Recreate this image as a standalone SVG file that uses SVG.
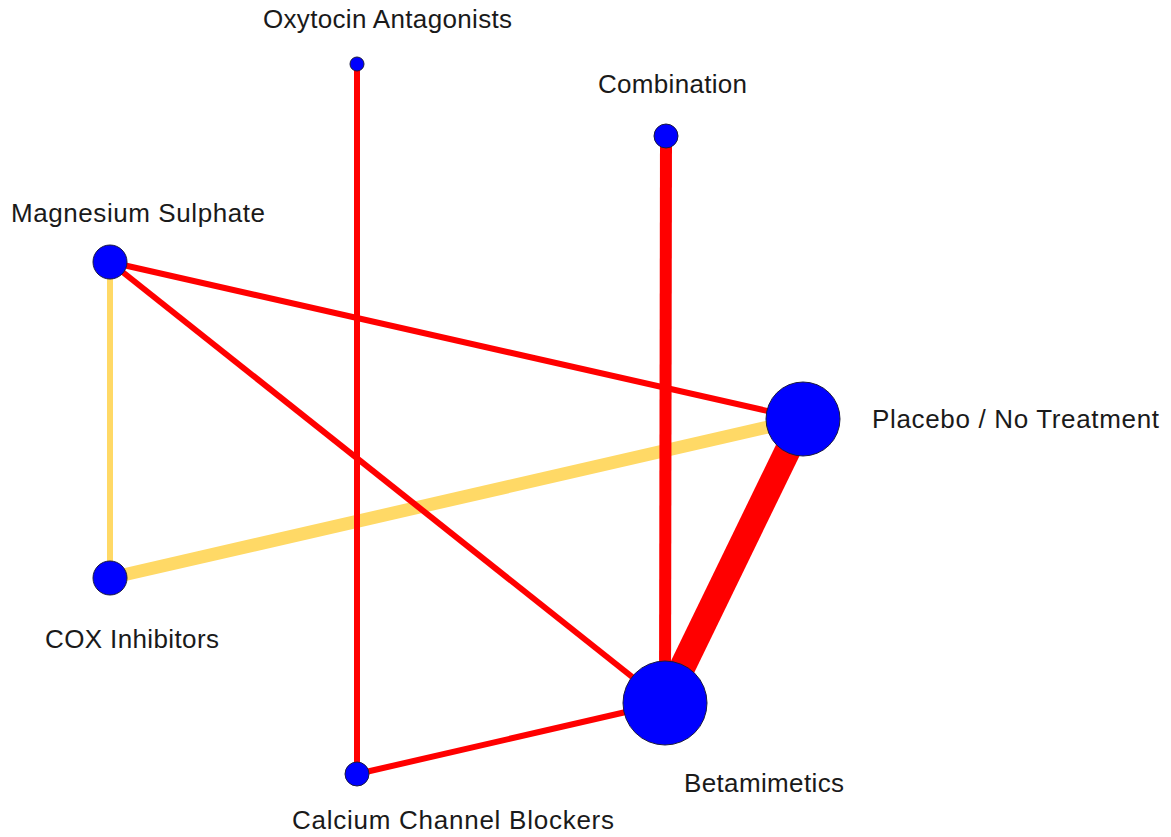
<svg xmlns="http://www.w3.org/2000/svg" width="1171" height="837" viewBox="0 0 1171 837">
<style>
.e{stroke-linecap:butt;fill:none}
.r{stroke:#FF0000}
.y{stroke:#FFD966}
.n{fill:#0000FF;stroke:#1a1a40;stroke-width:1}
.t{font-family:"Liberation Sans",Arial,sans-serif;font-size:26px;fill:#1a1a1a}
</style>
<rect width="1171" height="837" fill="#fff"/>
<g id="edges">
<line class="e y" x1="110" y1="262" x2="110" y2="578" stroke-width="6"/>
<line class="e y" x1="110" y1="578" x2="803" y2="419" stroke-width="13"/>
<line class="e r" x1="357" y1="64" x2="357" y2="774" stroke-width="6"/>
<line class="e r" x1="110" y1="262" x2="803" y2="419" stroke-width="6"/>
<line class="e r" x1="110" y1="262" x2="665" y2="703" stroke-width="6"/>
<line class="e r" x1="666" y1="136" x2="665" y2="703" stroke-width="12"/>
<line class="e r" x1="803" y1="419" x2="665" y2="703" stroke-width="26"/>
<line class="e r" x1="357" y1="774" x2="665" y2="703" stroke-width="6"/>
</g>
<g id="oxytocin"><circle class="n" cx="357" cy="64" r="7"/><text class="t" x="263" y="28" textLength="249">Oxytocin Antagonists</text></g>
<g id="combination"><circle class="n" cx="666" cy="136" r="12"/><text class="t" x="598" y="93" textLength="149">Combination</text></g>
<g id="magnesium"><circle class="n" cx="110" cy="262" r="17"/><text class="t" x="11" y="222" textLength="254">Magnesium  Sulphate</text></g>
<g id="placebo"><circle class="n" cx="803" cy="419" r="37"/><text class="t" x="872" y="428" textLength="287">Placebo / No Treatment</text></g>
<g id="cox"><circle class="n" cx="110" cy="578" r="17"/><text class="t" x="45" y="648" textLength="174">COX Inhibitors</text></g>
<g id="betamimetics"><circle class="n" cx="665" cy="703" r="42"/><text class="t" x="684" y="792" textLength="160">Betamimetics</text></g>
<g id="ccb"><circle class="n" cx="357" cy="774" r="12"/><text class="t" x="292" y="829" textLength="322">Calcium  Channel  Blockers</text></g>
</svg>
